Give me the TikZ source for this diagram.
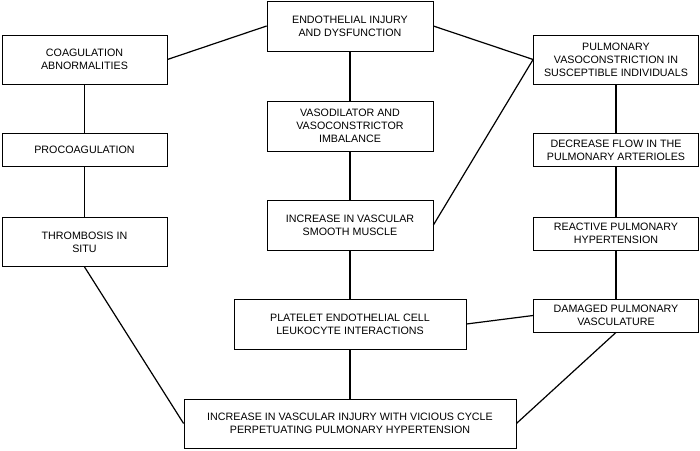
\documentclass[tikz,border=0pt]{standalone}
\usepackage{fontspec}
\setmainfont{Liberation Sans}
\begin{document}
\begin{tikzpicture}[x=1pt,y=-1pt,
  box/.style={draw=black, line width=0.8pt, fill=white, align=center, inner sep=0pt,
    font=\fontsize{10.7}{13}\selectfont},
  link/.style={draw=black, line width=1.2pt}]
\useasboundingbox (0,0) rectangle (700,450);
\node[box, minimum width=166pt, minimum height=50pt] (endo) at (350,26) {ENDOTHELIAL INJURY\\AND DYSFUNCTION};
\node[box, minimum width=165pt, minimum height=49pt] (coag) at (84.5,59.5) {COAGULATION\\ABNORMALITIES};
\node[box, minimum width=165pt, minimum height=33pt] (proc) at (84.5,150) {PROCOAGULATION};
\node[box, minimum width=165pt, minimum height=49pt] (thro) at (84.5,242) {THROMBOSIS IN\\SITU};
\node[box, minimum width=166pt, minimum height=50pt] (vaso) at (350,126) {VASODILATOR AND\\VASOCONSTRICTOR\\IMBALANCE};
\node[box, minimum width=166pt, minimum height=50pt] (smoo) at (350,225) {INCREASE IN VASCULAR\\SMOOTH MUSCLE};
\node[box, minimum width=232pt, minimum height=50pt] (plat) at (350,324) {PLATELET ENDOTHELIAL CELL\\LEUKOCYTE INTERACTIONS};
\node[box, minimum width=332pt, minimum height=49pt] (inj) at (350,423.5) {INCREASE IN VASCULAR INJURY WITH VICIOUS CYCLE\\PERPETUATING PULMONARY HYPERTENSION};
\node[box, minimum width=165pt, minimum height=49pt] (pulm) at (616,59.5) {PULMONARY\\VASOCONSTRICTION IN\\SUSCEPTIBLE INDIVIDUALS};
\node[box, minimum width=165pt, minimum height=33pt] (decr) at (616,150) {DECREASE FLOW IN THE\\PULMONARY ARTERIOLES};
\node[box, minimum width=165pt, minimum height=33pt] (reac) at (616,233.5) {REACTIVE PULMONARY\\HYPERTENSION};
\node[box, minimum width=165pt, minimum height=33pt] (dama) at (616,315.5) {DAMAGED PULMONARY\\VASCULATURE};
\draw[link] (endo.west) -- (coag.east);
\draw[link] (endo.east) -- (pulm.west);
\draw[link] (smoo.east) -- (pulm.west);
\draw[link] (coag) -- (proc);
\draw[link] (proc) -- (thro);
\draw[link] (thro.south) -- (inj.west);
\draw[link] (endo) -- (vaso);
\draw[link] (vaso) -- (smoo);
\draw[link] (smoo) -- (plat);
\draw[link] (plat) -- (inj);
\draw[link] (plat.east) -- (dama.west);
\draw[link] (pulm) -- (decr);
\draw[link] (decr) -- (reac);
\draw[link] (reac) -- (dama);
\draw[link] (dama.south) -- (inj.east);
\end{tikzpicture}
\end{document}
